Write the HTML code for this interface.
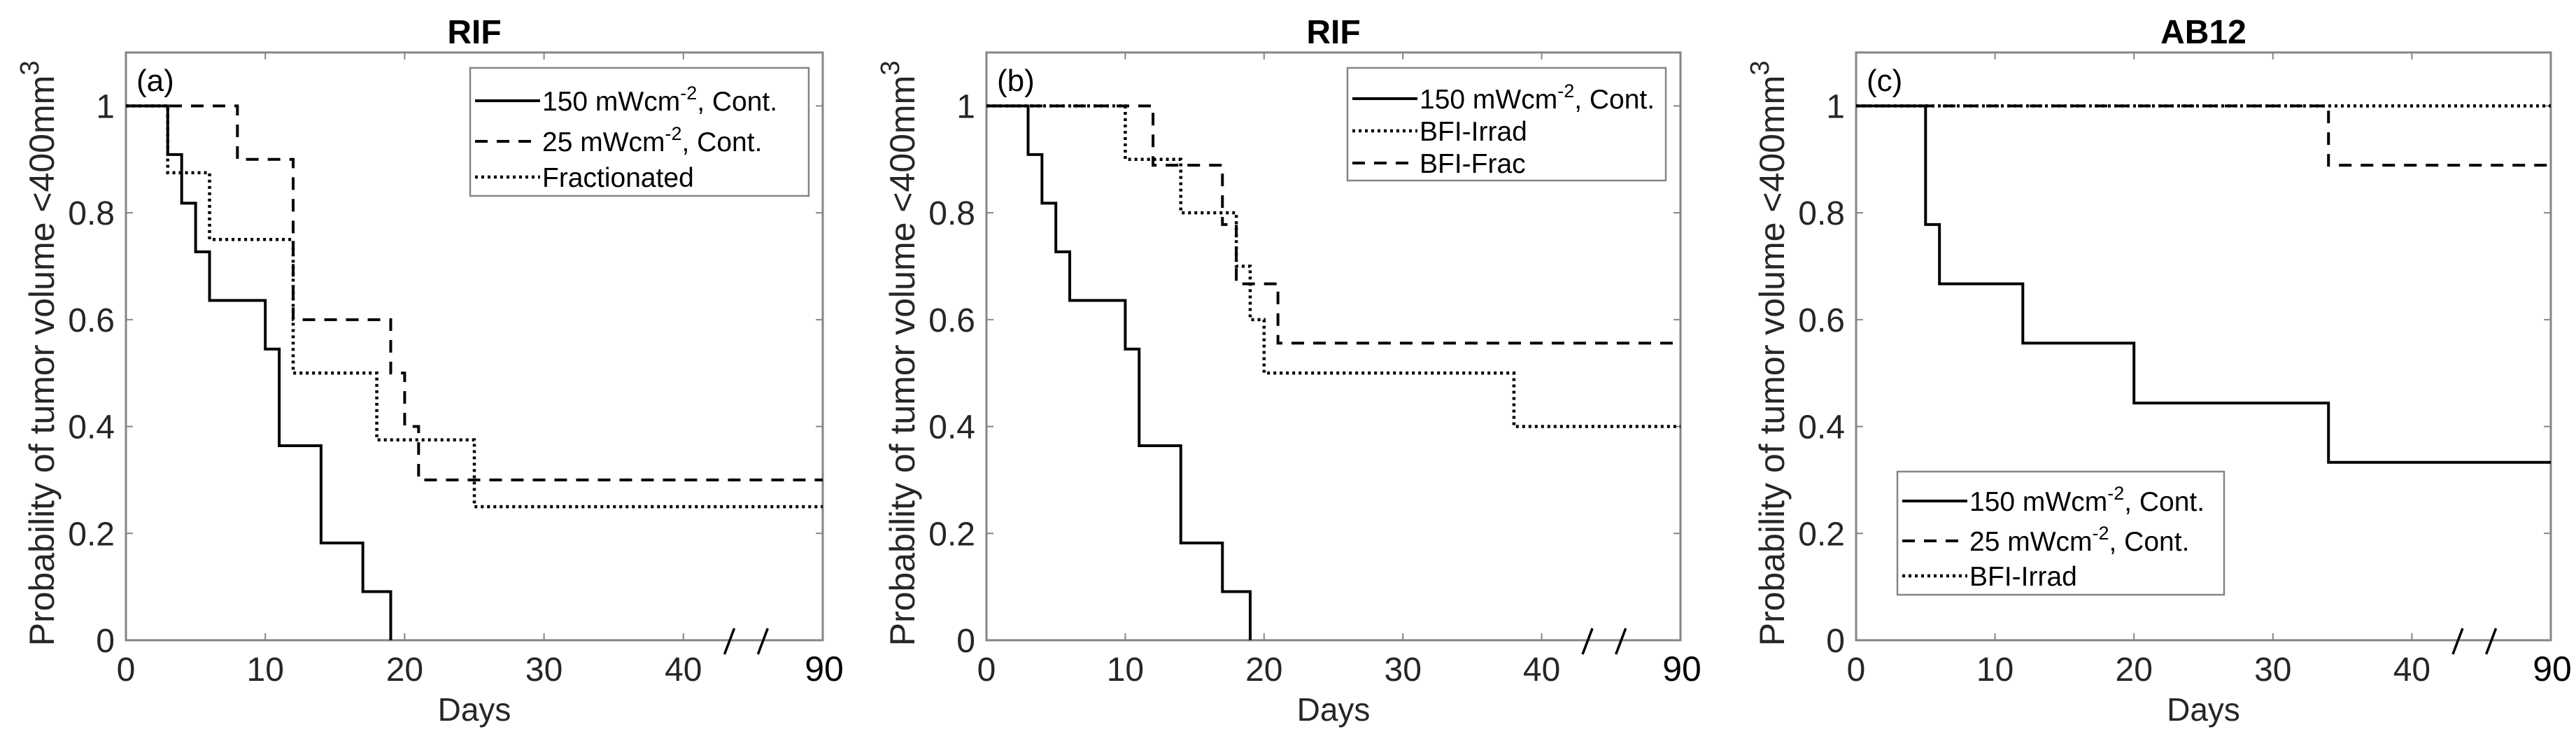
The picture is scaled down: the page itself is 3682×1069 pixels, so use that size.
<!DOCTYPE html>
<html><head><meta charset="utf-8"><style>
html,body{margin:0;padding:0;background:#fff;}
svg{display:block;font-family:"Liberation Sans",Arial,sans-serif;}
</style></head><body>
<svg id="fig" width="3682" height="1069" viewBox="0 0 3682 1069" xmlns="http://www.w3.org/2000/svg"></svg>
<script>
// ---- data ----
const xTicks=[0,10,20,30,40];
const xEndLabel="90";
const yTicks=[0,0.2,0.4,0.6,0.8,1];
const yTickLabels=["0","0.2","0.4","0.6","0.8","1"];
const panelTitles=["RIF","RIF","AB12"];
const panelTags=["(a)","(b)","(c)"];
// panel a
const aSolidX=[0,3,4,5,6,10,11,14,17,19];
const aSolidY=[1,0.909,0.818,0.727,0.636,0.545,0.364,0.182,0.091,0];
const aDashX=[0,8,12,19,20,21];
const aDashY=[1,0.9,0.6,0.5,0.4,0.3];
const aDotX=[0,3,6,12,18,25];
const aDotY=[1,0.875,0.75,0.5,0.375,0.25];
// panel b
const bSolidX=[0,3,4,5,6,10,11,14,17,19];
const bSolidY=[1,0.909,0.818,0.727,0.636,0.545,0.364,0.182,0.091,0];
const bDotX=[0,10,14,18,19,20,38];
const bDotY=[1,0.9,0.8,0.7,0.6,0.5,0.4];
const bDashX=[0,12,17,18,21];
const bDashY=[1,0.889,0.778,0.667,0.556];
// panel c
const cSolidX=[0,5,6,12,20,34];
const cSolidY=[1,0.778,0.667,0.556,0.444,0.333];
const cDashX=[0,34];
const cDashY=[1,0.889];
const cDotX=[0];
const cDotY=[1];
const xMax=50, yMax=1.1;

const NS="http://www.w3.org/2000/svg";
const svg=document.getElementById('fig');
function mk(tag,attrs,parent,text){const e=document.createElementNS(NS,tag);for(const k in attrs)e.setAttribute(k,attrs[k]);if(text!==undefined)e.textContent=text;(parent||svg).appendChild(e);return e;}
const STY={solid:"",dash:"18,13",dot:"4,5"};

const panels=[
 {left:180,right:1176,series:[[aSolidX,aSolidY,'solid','series-150-cont'],[aDashX,aDashY,'dash','series-25-cont'],[aDotX,aDotY,'dot','series-fractionated']],
  legend:{x:672,y:97,w:484,h:183,rows:[144,202,253],items:[['solid','150 mWcm','-2',', Cont.'],['dash','25 mWcm','-2',', Cont.'],['dot','Fractionated','','']]}},
 {left:1410,right:2402,series:[[bSolidX,bSolidY,'solid','series-150-cont'],[bDotX,bDotY,'dot','series-bfi-irrad'],[bDashX,bDashY,'dash','series-bfi-frac']],
  legend:{x:1926,y:97,w:455,h:161,rows:[141,187,233],items:[['solid','150 mWcm','-2',', Cont.'],['dot','BFI-Irrad','',''],['dash','BFI-Frac','','']]}},
 {left:2653,right:3646,series:[[cSolidX,cSolidY,'solid','series-150-cont'],[cDashX,cDashY,'dash','series-25-cont'],[cDotX,cDotY,'dot','series-bfi-irrad']],
  legend:{x:2712,y:674,w:467,h:176,rows:[716,773,823],items:[['solid','150 mWcm','-2',', Cont.'],['dash','25 mWcm','-2',', Cont.'],['dot','BFI-Irrad','','']]}}
];
const plotTop=75,plotBot=915;
panels.forEach((p,i)=>{
 const g=mk('g',{});
 
 
 const sx=v=>p.left+(p.right-p.left)*v/xMax;
 const sy=v=>plotBot-(plotBot-plotTop)*v/yMax;
 const t=mk('text',{x:(p.left+p.right)/2,y:62,'text-anchor':'middle','font-size':48,'font-weight':'bold',fill:'#000'},g,panelTitles[i]);
 
 
 const box=mk('rect',{x:p.left,y:plotTop,width:p.right-p.left,height:plotBot-plotTop,fill:'none',stroke:'#858585','stroke-width':3},g);
 
 
 xTicks.forEach(v=>{
  mk('line',{x1:sx(v),x2:sx(v),y1:plotBot,y2:plotBot-10,stroke:'#858585','stroke-width':2},g);
  mk('line',{x1:sx(v),x2:sx(v),y1:plotTop,y2:plotTop+10,stroke:'#858585','stroke-width':2},g);
  const l=mk('text',{x:sx(v),y:973,'text-anchor':'middle','font-size':48,fill:'#262626'},g,String(v));
  
  
 });
 const e=mk('text',{x:sx(xMax)+2,y:973,'text-anchor':'middle','font-size':50,fill:'#000'},g,xEndLabel);
 
 
 [43.3,45.7].forEach(v=>{
  const b=mk('line',{x1:sx(v)-7,y1:plotBot+20,x2:sx(v)+7,y2:plotBot-17,stroke:'#000','stroke-width':3.5},g);
  
  
 });
 yTicks.forEach((v,k)=>{
  mk('line',{x1:p.left,x2:p.left+10,y1:sy(v),y2:sy(v),stroke:'#858585','stroke-width':2},g);
  mk('line',{x1:p.right,x2:p.right-10,y1:sy(v),y2:sy(v),stroke:'#858585','stroke-width':2},g);
  const l=mk('text',{x:p.left-16,y:sy(v)+17,'text-anchor':'end','font-size':48,fill:'#262626'},g,yTickLabels[k]);
  
  
 });
 const xl=mk('text',{x:(p.left+p.right)/2,y:1030,'text-anchor':'middle','font-size':46,fill:'#262626'},g,'Days');
 
 
 const yx=p.left-103, yc=505;
 const yl=mk('text',{x:yx,y:yc,'text-anchor':'middle','font-size':50,fill:'#262626',transform:`rotate(-90 ${yx} ${yc})`},g);
 
 
 mk('tspan',{},yl,'Probability of tumor volume <400mm');
 mk('tspan',{dy:-22,'font-size':38},yl,'3');
 const tg=mk('text',{x:p.left+15,y:130,'font-size':44,fill:'#000'},g,panelTags[i]);
 
 
 p.series.forEach(([xs,ys,st,name])=>{
  let d=`M${sx(xs[0])},${sy(ys[0])}`;
  for(let k=1;k<xs.length;k++){d+=` H${sx(xs[k])} V${sy(ys[k])}`;}
  const last=ys[ys.length-1];
  if(last>0) d+=` H${sx(xMax)}`;
  const a={d:d,fill:'none',stroke:'#000','stroke-width':st==='dot'?4.5:4};
  if(STY[st])a['stroke-dasharray']=STY[st];
  const path=mk('path',a,g);
  
  
 });
 const L=p.legend;
 const lg=mk('g',{},g);
 
 
 mk('rect',{x:L.x,y:L.y,width:L.w,height:L.h,fill:'#fff',stroke:'#858585','stroke-width':2.5},lg);
 L.items.forEach((it,k)=>{
  const row=mk('g',{},lg);
  
  
  const yy=L.rows[k];
  const a={x1:L.x+7,x2:L.x+100,y1:yy,y2:yy,stroke:'#000','stroke-width':it[0]==='dot'?4.5:4};
  if(STY[it[0]])a['stroke-dasharray']=STY[it[0]];
  mk('line',a,row);
  const tx=mk('text',{x:L.x+103,y:yy+14,'font-size':39,fill:'#000'},row);
  mk('tspan',{},tx,it[1]);
  if(it[2]){mk('tspan',{dy:-16,'font-size':27},tx,it[2]);mk('tspan',{dy:16},tx,it[3]);}
 });
});
</script>
</body></html>
